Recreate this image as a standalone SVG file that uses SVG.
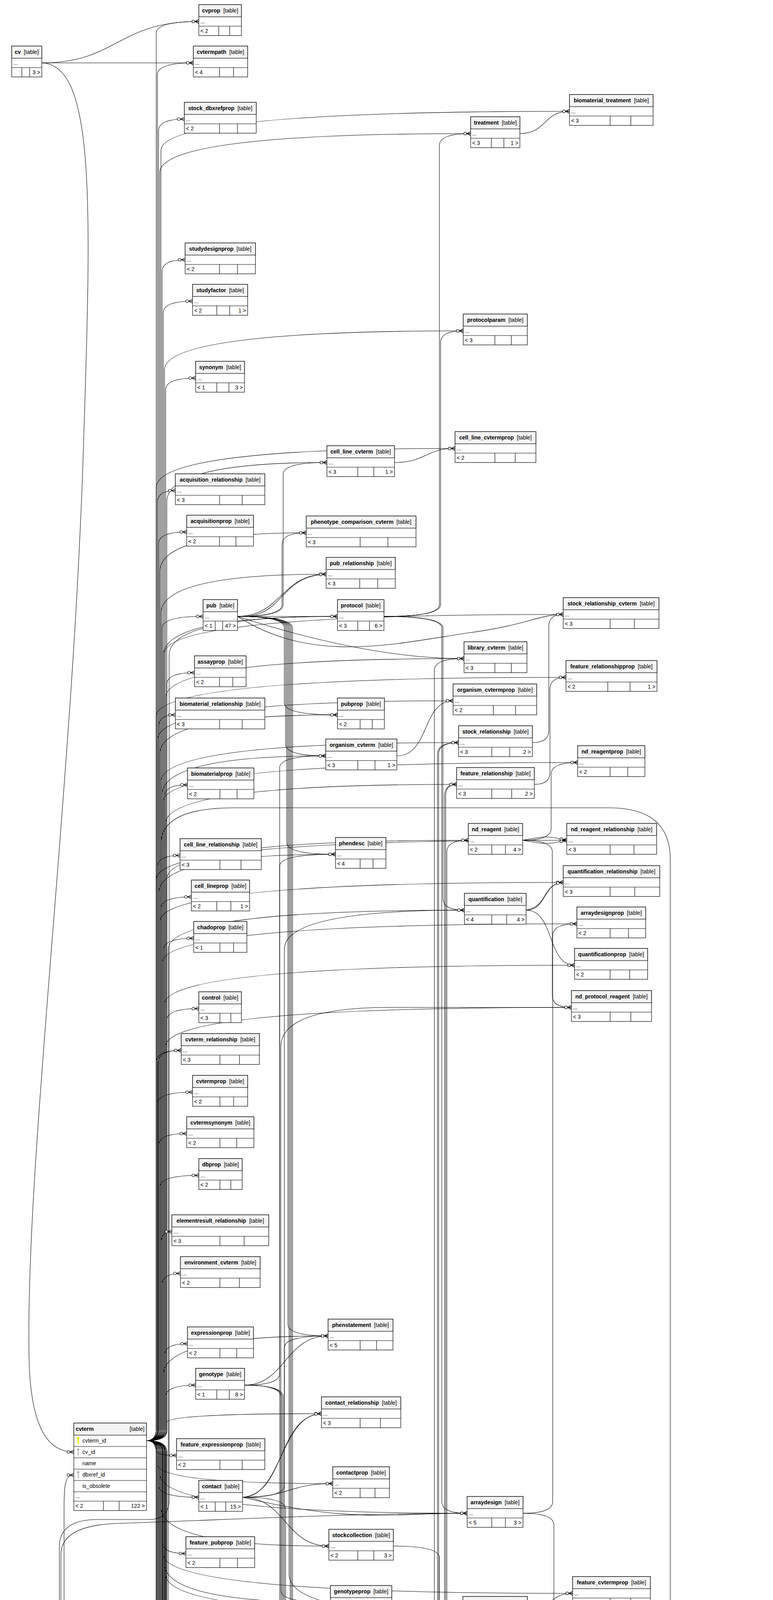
<svg xmlns="http://www.w3.org/2000/svg" xmlns:xlink="http://www.w3.org/1999/xlink" width="1979" height="7908" viewBox="0 0 1979 7908">
<style>
.b{fill:#fff;stroke:#000;stroke-width:1.2}
.h{fill:#f4f4f4;stroke:#000;stroke-width:1.2}
.l{fill:none;stroke:#000;stroke-width:1.2}
#connectors path{fill:none;stroke:#000;stroke-width:1.1;marker-end:url(#m)}
text{font-family:"Liberation Sans",Arial,Helvetica,sans-serif;font-size:14px;fill:#000}
.t{text-anchor:middle}
.n{font-weight:bold}
.r{text-anchor:end}
.pk{color:#e0e000}
.fk{color:#b8b8b8}
</style>
<defs>
<marker id="m" viewBox="0 0 20 12" refX="20" refY="6" markerWidth="20" markerHeight="12" markerUnits="userSpaceOnUse" orient="auto">
<path d="M10,6L20,1M10,6L20,6M10,6L20,11" fill="none" stroke="#000" stroke-width="1.2"/>
<circle cx="6" cy="6" r="3.5" fill="#fff" stroke="#000" stroke-width="1.2"/>
</marker>
<symbol id="k" viewBox="0 0 8 20"><circle cx="4" cy="4" r="3.2" fill="currentColor"/><path d="M4,6V19M4,14H7M4,17H6" stroke="currentColor" stroke-width="2" fill="none"/></symbol>
</defs>
<rect width="1979" height="7908" fill="#fff"/>
<g id="connectors">
<path d="M375,3688Q400,3688 400,3658L400,85Q400,55 509,55"/>
<path d="M375,3688Q403,3688 403,3658L403,191Q403,161 495,161"/>
<path d="M375,3688Q406,3688 406,3658L406,335Q406,305 472,305"/>
<path d="M375,3688Q409,3688 409,3658L409,442Q409,342 1205,342"/>
<path d="M375,3688Q412,3688 412,3658L412,385Q412,285 1458,285"/>
<path d="M375,3688Q415,3688 415,3658L415,695Q415,665 474,665"/>
<path d="M375,3688Q418,3688 418,3658L418,801Q418,771 493,771"/>
<path d="M375,3688Q421,3688 421,3658L421,947Q421,847 1186,847"/>
<path d="M375,3688Q424,3688 424,3658L424,998Q424,968 501,968"/>
<path d="M375,3688Q427,3688 427,3658L427,1284Q427,1184 837,1184"/>
<path d="M375,3688Q400,3688 400,3658L400,1248Q400,1148 1165,1148"/>
<path d="M375,3688Q403,3688 403,3658L403,1286Q403,1256 449,1256"/>
<path d="M375,3688Q406,3688 406,3658L406,1392Q406,1362 478,1362"/>
<path d="M375,3688Q409,3688 409,3658L409,1464Q409,1364 784,1364"/>
<path d="M375,3688Q412,3688 412,3658L412,1570Q412,1470 835,1470"/>
<path d="M375,3688Q415,3688 415,3658L415,1608Q415,1578 520,1578"/>
<path d="M375,3688Q418,3688 418,3658L418,1678Q418,1578 864,1578"/>
<path d="M375,3688Q421,3688 421,3658L421,1673Q421,1573 1442,1573"/>
<path d="M375,3688Q424,3688 424,3658L424,1786Q424,1686 1188,1686"/>
<path d="M375,3688Q427,3688 427,3658L427,1752Q427,1722 498,1722"/>
<path d="M375,3688Q400,3688 400,3658L400,1834Q400,1734 1449,1734"/>
<path d="M375,3688Q403,3688 403,3658L403,1894Q403,1794 1160,1794"/>
<path d="M375,3688Q406,3688 406,3658L406,1860Q406,1830 449,1830"/>
<path d="M375,3688Q409,3688 409,3658L409,1930Q409,1830 864,1830"/>
<path d="M375,3688Q412,3688 412,3658L412,2001Q412,1901 1174,1901"/>
<path d="M375,3688Q415,3688 415,3658L415,2035Q415,1935 834,1935"/>
<path d="M375,3688Q418,3688 418,3658L418,2052Q418,1952 1479,1952"/>
<path d="M375,3688Q421,3688 421,3658L421,2039Q421,2009 480,2009"/>
<path d="M375,3688Q424,3688 424,3658L424,2108Q424,2008 1169,2008"/>
<path d="M375,3688Q427,3688 427,3658L427,2251Q427,2151 1199,2151"/>
<path d="M375,3688Q400,3688 400,3658L400,2251Q400,2151 1451,2151"/>
<path d="M375,3688Q403,3688 403,3658L403,2220Q403,2190 461,2190"/>
<path d="M375,3688Q406,3688 406,3658L406,2287Q406,2187 859,2187"/>
<path d="M375,3688Q409,3688 409,3658L409,2359Q409,2259 1442,2259"/>
<path d="M375,3688Q412,3688 412,3658L412,2326Q412,2296 490,2296"/>
<path d="M375,3688Q415,3688 415,3658L415,2465Q415,2365 1477,2365"/>
<path d="M375,3688Q418,3688 418,3658L418,2432Q418,2402 496,2402"/>
<path d="M375,3688Q421,3688 421,3658L421,2571Q421,2471 1471,2471"/>
<path d="M375,3688Q424,3688 424,3658L424,2679Q424,2579 1463,2579"/>
<path d="M375,3688Q427,3688 427,3658L427,2612Q427,2582 509,2582"/>
<path d="M375,3688Q400,3688 400,3658L400,2719Q400,2689 464,2689"/>
<path d="M375,3688Q405,3688 405,3658L405,2719Q405,2689 464,2689"/>
<path d="M375,3688Q403,3688 403,3658L403,2826Q403,2796 493,2796"/>
<path d="M375,3688Q406,3688 406,3658L406,2932Q406,2902 478,2902"/>
<path d="M375,3688Q409,3688 409,3658L409,3039Q409,3009 509,3009"/>
<path d="M375,3688Q412,3688 412,3658L412,3183Q412,3153 440,3153"/>
<path d="M375,3688Q415,3688 415,3658L415,3290Q415,3260 462,3260"/>
<path d="M375,3688Q418,3688 418,3658L418,3520Q418,3420 840,3420"/>
<path d="M375,3688Q421,3688 421,3658L421,3470Q421,3440 480,3440"/>
<path d="M375,3688Q424,3688 424,3658L424,3576Q424,3546 501,3546"/>
<path d="M375,3688Q427,3688 427,3665L427,3642Q427,3619 823,3619"/>
<path d="M375,3688Q400,3688 400,3701L400,3713Q400,3726 452,3726"/>
<path d="M375,3688Q403,3688 403,3718L403,3748Q403,3798 852,3798"/>
<path d="M375,3688Q406,3688 406,3718L406,3803Q406,3833 509,3833"/>
<path d="M375,3688Q409,3688 409,3718L409,3774Q409,3874 1196,3874"/>
<path d="M375,3688Q412,3688 412,3718L412,3858Q412,3958 842,3958"/>
<path d="M375,3688Q415,3688 415,3718L415,3947Q415,3977 476,3977"/>
<path d="M375,3688Q418,3688 418,3718L418,3979Q418,4079 1466,4079"/>
<path d="M375,3688Q421,3688 421,3718L421,4002Q421,4102 846,4102"/>
<path d="M375,3688Q424,3688 424,3718L424,4030Q424,4130 1185,4130"/>
<path d="M375,3688Q427,3688 427,3718L427,4143Q427,4173 480,4173"/>
<path d="M375,3688Q400,3688 400,3718L400,4164Q400,4264 1169,4264"/>
<path d="M375,3688Q403,3688 403,3718L403,4254Q403,4354 810,4354"/>
<path d="M375,3688Q406,3688 406,3718L406,4395Q406,4425 452,4425"/>
<path d="M375,3688Q409,3688 409,3718L409,4325Q409,4425 1191,4425"/>
<path d="M375,3688Q412,3688 412,3718L412,4358Q412,4458 1473,4458"/>
<path d="M375,3688Q415,3688 415,3718L415,4502Q415,4532 467,4532"/>
<path d="M375,3688Q418,3688 418,3718L418,4470Q418,4570 1203,4570"/>
<path d="M375,3688Q421,3688 421,3718L421,4541Q421,4641 858,4641"/>
<path d="M375,3688Q424,3688 424,3718L424,4646Q424,4676 468,4676"/>
<path d="M375,3688Q427,3688 427,3718L427,4576Q427,4676 1177,4676"/>
<path d="M375,3688Q400,3688 400,3718L400,4719Q400,4819 1174,4819"/>
<path d="M375,3688Q403,3688 403,3718L403,4754Q403,4854 844,4854"/>
<path d="M375,3688Q406,3688 406,3718L406,4785Q406,4885 1482,4885"/>
<path d="M375,3688Q409,3688 409,3718L409,4861Q409,4961 817,4961"/>
<path d="M375,3688Q412,3688 412,3718L412,5041Q412,5071 501,5071"/>
<path d="M375,3688Q415,3688 415,3718L415,4966Q415,5066 873,5066"/>
<path d="M375,3688Q418,3688 418,3718L418,5036Q418,5136 1444,5136"/>
<path d="M375,3688Q421,3688 421,3718L421,5072Q421,5172 1176,5172"/>
<path d="M375,3688Q424,3688 424,3718L424,5179Q424,5279 1162,5279"/>
<path d="M375,3688Q427,3688 427,3718L427,5294Q427,5324 498,5324"/>
<path d="M375,3688Q422,3688 422,3718L422,5294Q422,5324 498,5324"/>
<path d="M375,3688Q417,3688 417,3718L417,5294Q417,5324 498,5324"/>
<path d="M375,3688Q400,3688 400,3718L400,5255Q400,5355 829,5355"/>
<path d="M375,3688Q403,3688 403,3718L403,5510Q403,5540 495,5540"/>
<path d="M375,3688Q406,3688 406,3718L406,5467Q406,5567 839,5567"/>
<path d="M375,3688Q409,3688 409,3718L409,5537Q409,5637 1508,5637"/>
<path d="M375,3688Q412,3688 412,3658L412,2160Q412,2068 600,2068L1560,2068Q1716,2068 1716,2200L1716,5580Q1716,5637 1754,5637"/>
<path d="M375,3688Q415,3688 415,3718L415,5575Q415,5675 870,5675"/>
<path d="M375,3688Q418,3688 418,3718L418,5614Q418,5714 1191,5714"/>
<path d="M375,3688Q421,3688 421,3718L421,5691Q421,5721 464,5721"/>
<path d="M375,3688Q424,3688 424,3718L424,5682Q424,5782 837,5782"/>
<path d="M375,3688Q427,3688 427,3718L427,5796Q427,5826 493,5826"/>
<path d="M375,3688Q400,3688 400,3718L400,5753Q400,5853 1196,5853"/>
<path d="M375,3688Q403,3688 403,3718L403,5897Q403,5997 872,5997"/>
<path d="M375,3688Q406,3688 406,3718L406,5897Q406,5997 1169,5997"/>
<path d="M375,3688Q409,3688 409,3718L409,6048Q409,6078 492,6078"/>
<path d="M375,3688Q412,3688 412,3718L412,6058Q412,6158 1199,6158"/>
<path d="M375,3688Q415,3688 415,3718L415,6216Q415,6246 476,6246"/>
<path d="M375,3688Q418,3688 418,3718L418,6110Q418,6210 835,6210"/>
<path d="M375,3688Q421,3688 421,3718L421,6505Q421,6605 825,6605"/>
<path d="M375,3688Q424,3688 424,3718L424,6615Q424,6645 464,6645"/>
<path d="M375,3688Q427,3688 427,3718L427,6722Q427,6752 483,6752"/>
<path d="M375,3688Q400,3688 400,3718L400,6721Q400,6821 844,6821"/>
<path d="M375,3688Q403,3688 403,3718L403,6829Q403,6859 495,6859"/>
<path d="M375,3688Q406,3688 406,3718L406,6790Q406,6890 1201,6890"/>
<path d="M375,3688Q409,3688 409,3718L409,6835Q409,6935 1453,6935"/>
<path d="M375,3688Q412,3688 412,3718L412,6935Q412,6965 490,6965"/>
<path d="M375,3688Q415,3688 415,3718L415,6961Q415,7061 1465,7061"/>
<path d="M375,3688Q418,3688 418,3718L418,7042Q418,7072 477,7072"/>
<path d="M375,3688Q421,3688 421,3718L421,7066Q421,7166 755,7166"/>
<path d="M375,3688Q424,3688 424,3718L424,7222Q424,7252 459,7252"/>
<path d="M375,3688Q427,3688 427,3718L427,7545Q427,7575 501,7575"/>
<path d="M107,161C300,161 300,55 509,55"/>
<path d="M107,161C300,161 300,161 495,161"/>
<path d="M107,161C240,165 235,500 215,1100C190,2000 60,3000 75,3500C82,3650 120,3717 189,3717"/>
<path d="M122,7140C160,7140 164,7100 164,7000L164,3860C164,3800 167,3776 189,3776"/>
<path d="M122,7140C150,7140 152,7100 152,7000L152,3960Q152,3890 250,3890L380,3890Q433,3890 433,3840L433,1678Q433,1578 864,1578"/>
<path d="M122,7140C150,7140 156,7100 156,7000L156,3980Q156,3905 300,3900C600,3890 900,3874 1196,3874"/>
<path d="M122,7140C150,7140 158,7100 158,7000L158,5250Q158,5120 300,5110C500,5095 700,5066 873,5066"/>
<path d="M122,7140C150,7140 160,7100 160,7000L160,5850Q160,5720 300,5710C500,5690 700,5675 870,5675"/>
<path d="M122,7140C170,7150 150,7700 180,7800C220,7880 300,7840 400,7815L900,7812C1300,7800 1370,7000 1385,6400L1395,5700Q1400,5637 1508,5637"/>
<path d="M122,7140C165,7160 150,7600 260,7730C380,7840 640,7810 700,7660C730,7560 720,7431 817,7431"/>
<path d="M122,7140C300,7140 330,6752 483,6752"/>
<path d="M122,7140C300,7140 330,6859 495,6859"/>
<path d="M122,7140C165,7150 160,7400 200,7520C240,7610 330,7575 501,7575"/>
<path d="M122,7140C165,7150 160,7500 220,7640C280,7740 360,7720 478,7720"/>
<path d="M361,7356Q431,7356 431,7300L431,2430Q431,2330 1189,2330"/>
<path d="M361,7356Q432,7356 432,7300L432,5562Q432,5462 848,5462"/>
<path d="M361,7356C430,7356 420,6965 490,6965"/>
<path d="M361,7356C430,7356 420,7072 477,7072"/>
<path d="M361,7356C520,7380 560,7280 740,7240C1000,7190 1130,7110 1186,7110"/>
<path d="M361,7356C560,7356 560,7137 755,7137"/>
<path d="M361,7356C410,7356 400,7252 459,7252"/>
<path d="M361,7356C425,7350 395,7256 459,7252"/>
<path d="M361,7356C420,7356 410,7468 477,7468"/>
<path d="M361,7356C430,7356 420,7575 501,7575"/>
<path d="M361,7356C440,7356 400,7720 478,7720"/>
<path d="M366,6431C420,6431 410,6217 476,6217"/>
<path d="M366,6431C420,6431 410,6645 464,6645"/>
<path d="M608,1578C720,1578 720,1470 835,1470"/>
<path d="M608,1578C730,1585 710,1475 835,1470"/>
<path d="M608,1578C700,1578 780,1578 864,1578"/>
<path d="M608,1578Q725,1578 725,1548L725,1214Q725,1184 837,1184"/>
<path d="M608,1578Q722,1578 722,1548L722,1394Q722,1364 784,1364"/>
<path d="M608,1578C800,1700 1000,1650 1200,1620C1350,1600 1380,1573 1442,1573"/>
<path d="M608,1578C800,1640 1000,1686 1188,1686"/>
<path d="M608,1578Q728,1578 728,1608L728,1800Q728,1830 864,1830"/>
<path d="M608,1578Q731,1578 731,1608L731,1905Q731,1935 834,1935"/>
<path d="M608,1578Q734,1578 734,1608L734,2157Q734,2187 859,2187"/>
<path d="M608,1578Q737,1578 737,1608L737,3390Q737,3420 840,3420"/>
<path d="M608,1578Q740,1578 740,1608L740,4030Q740,4130 1185,4130"/>
<path d="M608,1578Q743,1578 743,1608L743,4216Q743,4246 824,4246"/>
<path d="M608,1578Q746,1578 746,1608L746,4325Q746,4425 1191,4425"/>
<path d="M608,1578Q749,1578 749,1608L749,5432Q749,5462 848,5462"/>
<path d="M983,1578Q1125,1578 1125,1548L1125,372Q1125,342 1205,342"/>
<path d="M983,1578Q1128,1578 1128,1548L1128,877Q1128,847 1186,847"/>
<path d="M983,1578Q1131,1578 1131,1608L1131,3844Q1131,3874 1196,3874"/>
<path d="M983,1578Q1134,1578 1134,1608L1134,2300Q1134,2330 1189,2330"/>
<path d="M1010,1184C1090,1184 1090,1148 1165,1148"/>
<path d="M1016,1935C1100,1935 1080,1794 1160,1794"/>
<path d="M626,3546Q716,3546 716,3516L716,2217Q716,2187 859,2187"/>
<path d="M626,3546C730,3546 730,3420 840,3420"/>
<path d="M626,3546Q719,3546 719,3576L719,4072Q719,4102 846,4102"/>
<path d="M626,3546Q722,3546 722,3576L722,4576Q722,4676 1177,4676"/>
<path d="M626,3546Q725,3546 725,3576L725,4718Q725,4748 805,4748"/>
<path d="M621,3833C720,3833 720,3619 823,3619"/>
<path d="M621,3833C730,3825 710,3625 823,3619"/>
<path d="M621,3833C740,3833 740,3798 852,3798"/>
<path d="M621,3833C900,3900 1000,3874 1196,3874"/>
<path d="M621,3833C730,3833 730,3958 842,3958"/>
<path d="M621,3833Q728,3833 728,3803L728,2430Q728,2330 1189,2330"/>
<path d="M621,3833Q731,3833 731,3863L731,5144Q731,5174 811,5174"/>
<path d="M1339,3874Q1415,3874 1415,3844L1415,2395Q1415,2365 1477,2365"/>
<path d="M1339,3874Q1418,3874 1418,3904L1418,5607Q1418,5637 1508,5637"/>
<path d="M1007,3958Q1125,3958 1125,3988L1125,4234Q1125,4264 1169,4264"/>
<path d="M1350,4130C1410,4130 1400,4079 1466,4079"/>
<path d="M1344,4425C1410,4425 1400,4458 1473,4458"/>
<path d="M989,4641Q1128,4641 1128,4671L1128,4789Q1128,4819 1174,4819"/>
<path d="M661,4676Q734,4676 734,4646L734,4384Q734,4354 810,4354"/>
<path d="M627,5071Q716,5071 716,5041L716,1965Q716,1935 834,1935"/>
<path d="M627,5071Q719,5071 719,5041L719,4884Q719,4854 844,4854"/>
<path d="M627,5071C720,5071 720,4961 817,4961"/>
<path d="M627,5071C730,5065 710,4966 817,4961"/>
<path d="M627,5071C750,5071 750,5066 873,5066"/>
<path d="M627,5071Q722,5071 722,5101L722,5645Q722,5675 870,5675"/>
<path d="M627,5071Q725,5071 725,5101L725,5967Q725,5997 872,5997"/>
<path d="M973,5066Q1120,5066 1120,5036L1120,1931Q1120,1901 1174,1901"/>
<path d="M973,5066Q1123,5066 1123,5036L1123,1931Q1123,1901 1174,1901"/>
<path d="M973,5066Q1126,5066 1126,5036L1126,4455Q1126,4425 1191,4425"/>
<path d="M973,5066Q1129,5066 1129,5036L1129,4600Q1129,4570 1203,4570"/>
<path d="M973,5066C1080,5066 1080,5172 1176,5172"/>
<path d="M973,5066Q1132,5066 1132,5096L1132,5249Q1132,5279 1162,5279"/>
<path d="M973,5066Q1135,5066 1135,5096L1135,5684Q1135,5714 1191,5714"/>
<path d="M1372,5279C1410,5279 1400,5136 1444,5136"/>
<path d="M631,5324Q728,5324 728,5294L728,3450Q728,3420 840,3420"/>
<path d="M631,5324C730,5324 730,5355 829,5355"/>
<path d="M631,5324Q731,5324 731,5354L731,5537Q731,5567 839,5567"/>
<path d="M631,5324Q734,5324 734,5354L734,6074Q734,6104 801,6104"/>
<path d="M634,5540Q737,5540 737,5510L737,5272Q737,5172 1176,5172"/>
<path d="M634,5540Q740,5540 740,5570L740,5752Q740,5782 837,5782"/>
<path d="M1624,5637C1690,5622 1700,5625 1754,5637"/>
<path d="M1624,5637C1690,5652 1700,5650 1754,5637"/>
<path d="M978,5675Q1138,5675 1138,5645L1138,2038Q1138,2008 1169,2008"/>
<path d="M978,5675Q1141,5675 1141,5645L1141,2038Q1141,2008 1169,2008"/>
<path d="M978,5675Q1144,5675 1144,5645L1144,2181Q1144,2151 1199,2151"/>
<path d="M978,5675Q1147,5675 1147,5645L1147,4160Q1147,4130 1185,4130"/>
<path d="M978,5675Q1150,5675 1150,5645L1150,4706Q1150,4676 1177,4676"/>
<path d="M978,5675Q1153,5675 1153,5645L1153,4706Q1153,4676 1177,4676"/>
<path d="M978,5675Q1156,5675 1156,5645L1156,4849Q1156,4819 1174,4819"/>
<path d="M978,5675C1200,5660 1300,5637 1508,5637"/>
<path d="M978,5675C1080,5675 1090,5714 1191,5714"/>
<path d="M978,5675Q1125,5675 1125,5705L1125,5823Q1125,5853 1196,5853"/>
<path d="M978,5675Q1122,5675 1122,5705L1122,6860Q1122,6890 1201,6890"/>
<path d="M978,5675Q1119,5675 1119,5705L1119,7080Q1119,7110 1186,7110"/>
<path d="M977,5997Q1112,5997 1112,5967L1112,1716Q1112,1686 1188,1686"/>
<path d="M977,5997C1070,5990 1080,5990 1169,5997"/>
<path d="M977,5997C1070,6005 1080,6005 1169,5997"/>
<path d="M977,5997Q1115,5997 1115,6027L1115,6128Q1115,6158 1199,6158"/>
<path d="M636,6078Q719,6078 719,6048L719,2680Q719,2579 1000,2579L1463,2579"/>
<path d="M636,6078C740,6078 740,6210 835,6210"/>
<path d="M636,6078Q725,6078 725,6108L725,6325Q725,6355 808,6355"/>
<path d="M652,6188Q752,6188 752,6158L752,4276Q752,4246 824,4246"/>
<path d="M652,6188Q755,6188 755,6158L755,4778Q755,4748 805,4748"/>
<path d="M652,6188Q758,6188 758,6158L758,5204Q758,5174 811,5174"/>
<path d="M652,6188Q761,6188 761,6158L761,5379Q761,5279 1162,5279"/>
<path d="M652,6188C730,6188 730,6104 801,6104"/>
<path d="M652,6188C740,6188 730,6355 808,6355"/>
<path d="M652,6188Q750,6188 750,6218L750,6469Q750,6499 814,6499"/>
<path d="M652,6188Q753,6188 753,6218L753,6575Q753,6605 825,6605"/>
<path d="M652,6188Q700,6188 700,6218L700,7077Q700,7107 755,7107"/>
<path d="M652,6188Q745,6188 745,6218L745,7401Q745,7431 817,7431"/>
<path d="M627,7575Q730,7575 730,7545L730,6851Q730,6821 844,6821"/>
<path d="M627,7575Q733,7575 733,7545L733,6990Q733,6890 1201,6890"/>
<path d="M627,7575C900,7500 1100,7400 1130,7200C1150,7000 1380,6935 1453,6935"/>
<path d="M1335,6890Q1420,6890 1420,6860L1420,4915Q1420,4885 1482,4885"/>
<path d="M1335,6890C1400,6890 1390,6935 1453,6935"/>
<path d="M1335,6890C1410,6900 1380,6940 1453,6935"/>
<path d="M1350,7110C1410,7110 1400,7061 1465,7061"/>
<path d="M1331,342C1400,342 1390,285 1458,285"/>
<path d="M1363,1901Q1405,1901 1405,1871L1405,1603Q1405,1573 1442,1573"/>
<path d="M1368,2008Q1408,2008 1408,1978L1408,1764Q1408,1734 1449,1734"/>
<path d="M1338,2151C1400,2140 1400,2140 1451,2151"/>
<path d="M1338,2151C1400,2162 1400,2162 1451,2151"/>
<path d="M1338,2151Q1411,2151 1411,2121L1411,1982Q1411,1952 1479,1952"/>
<path d="M1338,2151Q1414,2151 1414,2181L1414,2549Q1414,2579 1463,2579"/>
<path d="M1347,2330C1400,2330 1390,2259 1442,2259"/>
<path d="M1347,2330C1405,2320 1385,2265 1442,2259"/>
<path d="M1347,2330C1420,2330 1400,2471 1471,2471"/>
</g>
<g id="cv" transform="translate(30,118)"><rect class="b" width="77" height="79"/><rect class="h" width="77" height="31"/><path class="l" d="M0,55H77M26,55V79M46,55V79"/><text class="t" x="38.5" y="20"><tspan class="n">cv</tspan>&#160; [table]</text><text x="4" y="48">...</text><text class="r" x="73" y="72">3 &gt;</text></g>
<g id="cvprop" transform="translate(509,12)"><rect class="b" width="109" height="79"/><rect class="h" width="109" height="31"/><path class="l" d="M0,55H109M51,55V79M79,55V79"/><text class="t" x="54.5" y="20"><tspan class="n">cvprop</tspan>&#160; [table]</text><text x="4" y="48">...</text><text x="4" y="72">&lt; 2</text></g>
<g id="cvtermpath" transform="translate(495,118)"><rect class="b" width="139" height="79"/><rect class="h" width="139" height="31"/><path class="l" d="M0,55H139M67,55V79M103,55V79"/><text class="t" x="69.5" y="20"><tspan class="n">cvtermpath</tspan>&#160; [table]</text><text x="4" y="48">...</text><text x="4" y="72">&lt; 4</text></g>
<g id="stock_dbxrefprop" transform="translate(472,262)"><rect class="b" width="184" height="79"/><rect class="h" width="184" height="31"/><path class="l" d="M0,55H184M90,55V79M136,55V79"/><text class="t" x="92" y="20"><tspan class="n">stock_dbxrefprop</tspan>&#160; [table]</text><text x="4" y="48">...</text><text x="4" y="72">&lt; 2</text></g>
<g id="treatment" transform="translate(1205,299)"><rect class="b" width="126" height="79"/><rect class="h" width="126" height="31"/><path class="l" d="M0,55H126M53,55V79M85,55V79"/><text class="t" x="63" y="20"><tspan class="n">treatment</tspan>&#160; [table]</text><text x="4" y="48">...</text><text x="4" y="72">&lt; 3</text><text class="r" x="122" y="72">1 &gt;</text></g>
<g id="biomaterial_treatment" transform="translate(1458,242)"><rect class="b" width="214" height="79"/><rect class="h" width="214" height="31"/><path class="l" d="M0,55H214M104,55V79M157,55V79"/><text class="t" x="107" y="20"><tspan class="n">biomaterial_treatment</tspan>&#160; [table]</text><text x="4" y="48">...</text><text x="4" y="72">&lt; 3</text></g>
<g id="studydesignprop" transform="translate(474,622)"><rect class="b" width="180" height="79"/><rect class="h" width="180" height="31"/><path class="l" d="M0,55H180M88,55V79M134,55V79"/><text class="t" x="90" y="20"><tspan class="n">studydesignprop</tspan>&#160; [table]</text><text x="4" y="48">...</text><text x="4" y="72">&lt; 2</text></g>
<g id="studyfactor" transform="translate(493,728)"><rect class="b" width="141" height="79"/><rect class="h" width="141" height="31"/><path class="l" d="M0,55H141M62,55V79M95,55V79"/><text class="t" x="70.5" y="20"><tspan class="n">studyfactor</tspan>&#160; [table]</text><text x="4" y="48">...</text><text x="4" y="72">&lt; 2</text><text class="r" x="137" y="72">1 &gt;</text></g>
<g id="protocolparam" transform="translate(1186,804)"><rect class="b" width="164" height="79"/><rect class="h" width="164" height="31"/><path class="l" d="M0,55H164M81,55V79M123,55V79"/><text class="t" x="82" y="20"><tspan class="n">protocolparam</tspan>&#160; [table]</text><text x="4" y="48">...</text><text x="4" y="72">&lt; 3</text></g>
<g id="synonym" transform="translate(501,925)"><rect class="b" width="125" height="79"/><rect class="h" width="125" height="31"/><path class="l" d="M0,55H125M54,55V79M85,55V79"/><text class="t" x="62.5" y="20"><tspan class="n">synonym</tspan>&#160; [table]</text><text x="4" y="48">...</text><text x="4" y="72">&lt; 1</text><text class="r" x="121" y="72">3 &gt;</text></g>
<g id="cell_line_cvterm" transform="translate(837,1141)"><rect class="b" width="173" height="79"/><rect class="h" width="173" height="31"/><path class="l" d="M0,55H173M79,55V79M120,55V79"/><text class="t" x="86.5" y="20"><tspan class="n">cell_line_cvterm</tspan>&#160; [table]</text><text x="4" y="48">...</text><text x="4" y="72">&lt; 3</text><text class="r" x="169" y="72">1 &gt;</text></g>
<g id="cell_line_cvtermprop" transform="translate(1165,1105)"><rect class="b" width="207" height="79"/><rect class="h" width="207" height="31"/><path class="l" d="M0,55H207M102,55V79M154,55V79"/><text class="t" x="103.5" y="20"><tspan class="n">cell_line_cvtermprop</tspan>&#160; [table]</text><text x="4" y="48">...</text><text x="4" y="72">&lt; 2</text></g>
<g id="acquisition_relationship" transform="translate(449,1213)"><rect class="b" width="229" height="79"/><rect class="h" width="229" height="31"/><path class="l" d="M0,55H229M113,55V79M171,55V79"/><text class="t" x="114.5" y="20"><tspan class="n">acquisition_relationship</tspan>&#160; [table]</text><text x="4" y="48">...</text><text x="4" y="72">&lt; 3</text></g>
<g id="acquisitionprop" transform="translate(478,1319)"><rect class="b" width="171" height="79"/><rect class="h" width="171" height="31"/><path class="l" d="M0,55H171M84,55V79M126,55V79"/><text class="t" x="85.5" y="20"><tspan class="n">acquisitionprop</tspan>&#160; [table]</text><text x="4" y="48">...</text><text x="4" y="72">&lt; 2</text></g>
<g id="phenotype_comparison_cvterm" transform="translate(784,1321)"><rect class="b" width="281" height="79"/><rect class="h" width="281" height="31"/><path class="l" d="M0,55H281M138,55V79M209,55V79"/><text class="t" x="140.5" y="20"><tspan class="n">phenotype_comparison_cvterm</tspan>&#160; [table]</text><text x="4" y="48">...</text><text x="4" y="72">&lt; 3</text></g>
<g id="pub_relationship" transform="translate(835,1427)"><rect class="b" width="177" height="79"/><rect class="h" width="177" height="31"/><path class="l" d="M0,55H177M86,55V79M132,55V79"/><text class="t" x="88.5" y="20"><tspan class="n">pub_relationship</tspan>&#160; [table]</text><text x="4" y="48">...</text><text x="4" y="72">&lt; 3</text></g>
<g id="pub" transform="translate(520,1535)"><rect class="b" width="88" height="79"/><rect class="h" width="88" height="31"/><path class="l" d="M0,55H88M31,55V79M50,55V79"/><text class="t" x="44" y="20"><tspan class="n">pub</tspan>&#160; [table]</text><text x="4" y="48">...</text><text x="4" y="72">&lt; 1</text><text class="r" x="84" y="72">47 &gt;</text></g>
<g id="protocol" transform="translate(864,1535)"><rect class="b" width="119" height="79"/><rect class="h" width="119" height="31"/><path class="l" d="M0,55H119M52,55V79M82,55V79"/><text class="t" x="59.5" y="20"><tspan class="n">protocol</tspan>&#160; [table]</text><text x="4" y="48">...</text><text x="4" y="72">&lt; 3</text><text class="r" x="115" y="72">6 &gt;</text></g>
<g id="stock_relationship_cvterm" transform="translate(1442,1530)"><rect class="b" width="245" height="79"/><rect class="h" width="245" height="31"/><path class="l" d="M0,55H245M120,55V79M182,55V79"/><text class="t" x="122.5" y="20"><tspan class="n">stock_relationship_cvterm</tspan>&#160; [table]</text><text x="4" y="48">...</text><text x="4" y="72">&lt; 3</text></g>
<g id="library_cvterm" transform="translate(1188,1643)"><rect class="b" width="161" height="79"/><rect class="h" width="161" height="31"/><path class="l" d="M0,55H161M79,55V79M121,55V79"/><text class="t" x="80.5" y="20"><tspan class="n">library_cvterm</tspan>&#160; [table]</text><text x="4" y="48">...</text><text x="4" y="72">&lt; 3</text></g>
<g id="assayprop" transform="translate(498,1679)"><rect class="b" width="132" height="79"/><rect class="h" width="132" height="31"/><path class="l" d="M0,55H132M64,55V79M98,55V79"/><text class="t" x="66" y="20"><tspan class="n">assayprop</tspan>&#160; [table]</text><text x="4" y="48">...</text><text x="4" y="72">&lt; 2</text></g>
<g id="feature_relationshipprop" transform="translate(1449,1691)"><rect class="b" width="233" height="79"/><rect class="h" width="233" height="31"/><path class="l" d="M0,55H233M107,55V79M164,55V79"/><text class="t" x="116.5" y="20"><tspan class="n">feature_relationshipprop</tspan>&#160; [table]</text><text x="4" y="48">...</text><text x="4" y="72">&lt; 2</text><text class="r" x="229" y="72">1 &gt;</text></g>
<g id="organism_cvtermprop" transform="translate(1160,1751)"><rect class="b" width="214" height="79"/><rect class="h" width="214" height="31"/><path class="l" d="M0,55H214M103,55V79M160,55V79"/><text class="t" x="107" y="20"><tspan class="n">organism_cvtermprop</tspan>&#160; [table]</text><text x="4" y="48">...</text><text x="4" y="72">&lt; 2</text></g>
<g id="biomaterial_relationship" transform="translate(449,1787)"><rect class="b" width="229" height="79"/><rect class="h" width="229" height="31"/><path class="l" d="M0,55H229M113,55V79M171,55V79"/><text class="t" x="114.5" y="20"><tspan class="n">biomaterial_relationship</tspan>&#160; [table]</text><text x="4" y="48">...</text><text x="4" y="72">&lt; 3</text></g>
<g id="pubprop" transform="translate(864,1787)"><rect class="b" width="120" height="79"/><rect class="h" width="120" height="31"/><path class="l" d="M0,55H120M58,55V79M89,55V79"/><text class="t" x="60" y="20"><tspan class="n">pubprop</tspan>&#160; [table]</text><text x="4" y="48">...</text><text x="4" y="72">&lt; 2</text></g>
<g id="stock_relationship" transform="translate(1174,1858)"><rect class="b" width="189" height="79"/><rect class="h" width="189" height="31"/><path class="l" d="M0,55H189M85,55V79M131,55V79"/><text class="t" x="94.5" y="20"><tspan class="n">stock_relationship</tspan>&#160; [table]</text><text x="4" y="48">...</text><text x="4" y="72">&lt; 3</text><text class="r" x="185" y="72">2 &gt;</text></g>
<g id="organism_cvterm" transform="translate(834,1892)"><rect class="b" width="182" height="79"/><rect class="h" width="182" height="31"/><path class="l" d="M0,55H182M82,55V79M126,55V79"/><text class="t" x="91" y="20"><tspan class="n">organism_cvterm</tspan>&#160; [table]</text><text x="4" y="48">...</text><text x="4" y="72">&lt; 3</text><text class="r" x="178" y="72">1 &gt;</text></g>
<g id="nd_reagentprop" transform="translate(1479,1909)"><rect class="b" width="172" height="79"/><rect class="h" width="172" height="31"/><path class="l" d="M0,55H172M83,55V79M128,55V79"/><text class="t" x="86" y="20"><tspan class="n">nd_reagentprop</tspan>&#160; [table]</text><text x="4" y="48">...</text><text x="4" y="72">&lt; 2</text></g>
<g id="biomaterialprop" transform="translate(480,1966)"><rect class="b" width="170" height="79"/><rect class="h" width="170" height="31"/><path class="l" d="M0,55H170M83,55V79M127,55V79"/><text class="t" x="85" y="20"><tspan class="n">biomaterialprop</tspan>&#160; [table]</text><text x="4" y="48">...</text><text x="4" y="72">&lt; 2</text></g>
<g id="feature_relationship" transform="translate(1169,1965)"><rect class="b" width="199" height="79"/><rect class="h" width="199" height="31"/><path class="l" d="M0,55H199M90,55V79M141,55V79"/><text class="t" x="99.5" y="20"><tspan class="n">feature_relationship</tspan>&#160; [table]</text><text x="4" y="48">...</text><text x="4" y="72">&lt; 3</text><text class="r" x="195" y="72">2 &gt;</text></g>
<g id="nd_reagent" transform="translate(1199,2108)"><rect class="b" width="139" height="79"/><rect class="h" width="139" height="31"/><path class="l" d="M0,55H139M60,55V79M95,55V79"/><text class="t" x="69.5" y="20"><tspan class="n">nd_reagent</tspan>&#160; [table]</text><text x="4" y="48">...</text><text x="4" y="72">&lt; 2</text><text class="r" x="135" y="72">4 &gt;</text></g>
<g id="nd_reagent_relationship" transform="translate(1451,2108)"><rect class="b" width="230" height="79"/><rect class="h" width="230" height="31"/><path class="l" d="M0,55H230M111,55V79M172,55V79"/><text class="t" x="115" y="20"><tspan class="n">nd_reagent_relationship</tspan>&#160; [table]</text><text x="4" y="48">...</text><text x="4" y="72">&lt; 3</text></g>
<g id="cell_line_relationship" transform="translate(461,2147)"><rect class="b" width="208" height="79"/><rect class="h" width="208" height="31"/><path class="l" d="M0,55H208M102,55V79M156,55V79"/><text class="t" x="104" y="20"><tspan class="n">cell_line_relationship</tspan>&#160; [table]</text><text x="4" y="48">...</text><text x="4" y="72">&lt; 3</text></g>
<g id="phendesc" transform="translate(859,2144)"><rect class="b" width="129" height="79"/><rect class="h" width="129" height="31"/><path class="l" d="M0,55H129M63,55V79M96,55V79"/><text class="t" x="64.5" y="20"><tspan class="n">phendesc</tspan>&#160; [table]</text><text x="4" y="48">...</text><text x="4" y="72">&lt; 4</text></g>
<g id="quantification_relationship" transform="translate(1442,2216)"><rect class="b" width="247" height="79"/><rect class="h" width="247" height="31"/><path class="l" d="M0,55H247M120,55V79M183,55V79"/><text class="t" x="123.5" y="20"><tspan class="n">quantification_relationship</tspan>&#160; [table]</text><text x="4" y="48">...</text><text x="4" y="72">&lt; 3</text></g>
<g id="cell_lineprop" transform="translate(490,2253)"><rect class="b" width="149" height="79"/><rect class="h" width="149" height="31"/><path class="l" d="M0,55H149M65,55V79M101,55V79"/><text class="t" x="74.5" y="20"><tspan class="n">cell_lineprop</tspan>&#160; [table]</text><text x="4" y="48">...</text><text x="4" y="72">&lt; 2</text><text class="r" x="145" y="72">1 &gt;</text></g>
<g id="quantification" transform="translate(1189,2287)"><rect class="b" width="158" height="79"/><rect class="h" width="158" height="31"/><path class="l" d="M0,55H158M70,55V79M108,55V79"/><text class="t" x="79" y="20"><tspan class="n">quantification</tspan>&#160; [table]</text><text x="4" y="48">...</text><text x="4" y="72">&lt; 4</text><text class="r" x="154" y="72">4 &gt;</text></g>
<g id="arraydesignprop" transform="translate(1477,2322)"><rect class="b" width="176" height="79"/><rect class="h" width="176" height="31"/><path class="l" d="M0,55H176M85,55V79M132,55V79"/><text class="t" x="88" y="20"><tspan class="n">arraydesignprop</tspan>&#160; [table]</text><text x="4" y="48">...</text><text x="4" y="72">&lt; 2</text></g>
<g id="chadoprop" transform="translate(496,2359)"><rect class="b" width="136" height="79"/><rect class="h" width="136" height="31"/><path class="l" d="M0,55H136M67,55V79M102,55V79"/><text class="t" x="68" y="20"><tspan class="n">chadoprop</tspan>&#160; [table]</text><text x="4" y="48">...</text><text x="4" y="72">&lt; 1</text></g>
<g id="quantificationprop" transform="translate(1471,2428)"><rect class="b" width="187" height="79"/><rect class="h" width="187" height="31"/><path class="l" d="M0,55H187M91,55V79M141,55V79"/><text class="t" x="93.5" y="20"><tspan class="n">quantificationprop</tspan>&#160; [table]</text><text x="4" y="48">...</text><text x="4" y="72">&lt; 2</text></g>
<g id="nd_protocol_reagent" transform="translate(1463,2536)"><rect class="b" width="205" height="79"/><rect class="h" width="205" height="31"/><path class="l" d="M0,55H205M99,55V79M152,55V79"/><text class="t" x="102.5" y="20"><tspan class="n">nd_protocol_reagent</tspan>&#160; [table]</text><text x="4" y="48">...</text><text x="4" y="72">&lt; 3</text></g>
<g id="control" transform="translate(509,2539)"><rect class="b" width="109" height="79"/><rect class="h" width="109" height="31"/><path class="l" d="M0,55H109M54,55V79M82,55V79"/><text class="t" x="54.5" y="20"><tspan class="n">control</tspan>&#160; [table]</text><text x="4" y="48">...</text><text x="4" y="72">&lt; 3</text></g>
<g id="cvterm_relationship" transform="translate(464,2646)"><rect class="b" width="200" height="79"/><rect class="h" width="200" height="31"/><path class="l" d="M0,55H200M99,55V79M149,55V79"/><text class="t" x="100" y="20"><tspan class="n">cvterm_relationship</tspan>&#160; [table]</text><text x="4" y="48">...</text><text x="4" y="72">&lt; 3</text></g>
<g id="cvtermprop" transform="translate(493,2753)"><rect class="b" width="141" height="79"/><rect class="h" width="141" height="31"/><path class="l" d="M0,55H141M70,55V79M105,55V79"/><text class="t" x="70.5" y="20"><tspan class="n">cvtermprop</tspan>&#160; [table]</text><text x="4" y="48">...</text><text x="4" y="72">&lt; 2</text></g>
<g id="cvtermsynonym" transform="translate(478,2859)"><rect class="b" width="172" height="79"/><rect class="h" width="172" height="31"/><path class="l" d="M0,55H172M85,55V79M128,55V79"/><text class="t" x="86" y="20"><tspan class="n">cvtermsynonym</tspan>&#160; [table]</text><text x="4" y="48">...</text><text x="4" y="72">&lt; 2</text></g>
<g id="dbprop" transform="translate(509,2966)"><rect class="b" width="111" height="79"/><rect class="h" width="111" height="31"/><path class="l" d="M0,55H111M54,55V79M82,55V79"/><text class="t" x="55.5" y="20"><tspan class="n">dbprop</tspan>&#160; [table]</text><text x="4" y="48">...</text><text x="4" y="72">&lt; 2</text></g>
<g id="elementresult_relationship" transform="translate(440,3110)"><rect class="b" width="248" height="79"/><rect class="h" width="248" height="31"/><path class="l" d="M0,55H248M123,55V79M185,55V79"/><text class="t" x="124" y="20"><tspan class="n">elementresult_relationship</tspan>&#160; [table]</text><text x="4" y="48">...</text><text x="4" y="72">&lt; 3</text></g>
<g id="environment_cvterm" transform="translate(462,3217)"><rect class="b" width="204" height="79"/><rect class="h" width="204" height="31"/><path class="l" d="M0,55H204M101,55V79M151,55V79"/><text class="t" x="102" y="20"><tspan class="n">environment_cvterm</tspan>&#160; [table]</text><text x="4" y="48">...</text><text x="4" y="72">&lt; 2</text></g>
<g id="phenstatement" transform="translate(840,3377)"><rect class="b" width="166" height="79"/><rect class="h" width="166" height="31"/><path class="l" d="M0,55H166M82,55V79M124,55V79"/><text class="t" x="83" y="20"><tspan class="n">phenstatement</tspan>&#160; [table]</text><text x="4" y="48">...</text><text x="4" y="72">&lt; 5</text></g>
<g id="expressionprop" transform="translate(480,3397)"><rect class="b" width="169" height="79"/><rect class="h" width="169" height="31"/><path class="l" d="M0,55H169M83,55V79M126,55V79"/><text class="t" x="84.5" y="20"><tspan class="n">expressionprop</tspan>&#160; [table]</text><text x="4" y="48">...</text><text x="4" y="72">&lt; 2</text></g>
<g id="genotype" transform="translate(501,3503)"><rect class="b" width="125" height="79"/><rect class="h" width="125" height="31"/><path class="l" d="M0,55H125M54,55V79M86,55V79"/><text class="t" x="62.5" y="20"><tspan class="n">genotype</tspan>&#160; [table]</text><text x="4" y="48">...</text><text x="4" y="72">&lt; 1</text><text class="r" x="121" y="72">8 &gt;</text></g>
<g id="contact_relationship" transform="translate(823,3576)"><rect class="b" width="203" height="79"/><rect class="h" width="203" height="31"/><path class="l" d="M0,55H203M99,55V79M151,55V79"/><text class="t" x="101.5" y="20"><tspan class="n">contact_relationship</tspan>&#160; [table]</text><text x="4" y="48">...</text><text x="4" y="72">&lt; 3</text></g>
<g id="cvterm" transform="translate(189,3643)"><rect class="b" width="186" height="224"/><rect class="h" width="186" height="31"/><path class="l" d="M0,60H186M0,89H186M0,118H186M0,147H186M0,176H186M0,200H186M76,200V224M116,200V224"/><text class="n" x="5" y="20">cvterm</text><text class="r" x="181" y="20">[table]</text><use href="#k" x="7" y="35" width="8" height="20" class="pk"/><use href="#k" x="7" y="64" width="8" height="20" class="fk"/><use href="#k" x="7" y="122" width="8" height="20" class="fk"/><text x="22" y="50">cvterm_id</text><text x="22" y="79">cv_id</text><text x="22" y="108">name</text><text x="22" y="137">dbxref_id</text><text x="22" y="166">is_obsolete</text><text x="4" y="192">...</text><text x="4" y="217">&lt; 2</text><text class="r" x="182" y="217">122 &gt;</text></g>
<g id="feature_expressionprop" transform="translate(452,3683)"><rect class="b" width="226" height="79"/><rect class="h" width="226" height="31"/><path class="l" d="M0,55H226M111,55V79M168,55V79"/><text class="t" x="113" y="20"><tspan class="n">feature_expressionprop</tspan>&#160; [table]</text><text x="4" y="48">...</text><text x="4" y="72">&lt; 2</text></g>
<g id="contactprop" transform="translate(852,3755)"><rect class="b" width="145" height="79"/><rect class="h" width="145" height="31"/><path class="l" d="M0,55H145M70,55V79M108,55V79"/><text class="t" x="72.5" y="20"><tspan class="n">contactprop</tspan>&#160; [table]</text><text x="4" y="48">...</text><text x="4" y="72">&lt; 2</text></g>
<g id="contact" transform="translate(509,3790)"><rect class="b" width="112" height="79"/><rect class="h" width="112" height="31"/><path class="l" d="M0,55H112M42,55V79M69,55V79"/><text class="t" x="56" y="20"><tspan class="n">contact</tspan>&#160; [table]</text><text x="4" y="48">...</text><text x="4" y="72">&lt; 1</text><text class="r" x="108" y="72">15 &gt;</text></g>
<g id="arraydesign" transform="translate(1196,3831)"><rect class="b" width="143" height="79"/><rect class="h" width="143" height="31"/><path class="l" d="M0,55H143M63,55V79M98,55V79"/><text class="t" x="71.5" y="20"><tspan class="n">arraydesign</tspan>&#160; [table]</text><text x="4" y="48">...</text><text x="4" y="72">&lt; 5</text><text class="r" x="139" y="72">3 &gt;</text></g>
<g id="stockcollection" transform="translate(842,3915)"><rect class="b" width="165" height="79"/><rect class="h" width="165" height="31"/><path class="l" d="M0,55H165M74,55V79M115,55V79"/><text class="t" x="82.5" y="20"><tspan class="n">stockcollection</tspan>&#160; [table]</text><text x="4" y="48">...</text><text x="4" y="72">&lt; 2</text><text class="r" x="161" y="72">3 &gt;</text></g>
<g id="feature_pubprop" transform="translate(476,3934)"><rect class="b" width="176" height="79"/><rect class="h" width="176" height="31"/><path class="l" d="M0,55H176M87,55V79M132,55V79"/><text class="t" x="88" y="20"><tspan class="n">feature_pubprop</tspan>&#160; [table]</text><text x="4" y="48">...</text><text x="4" y="72">&lt; 2</text></g>
<g id="feature_cvtermprop" transform="translate(1466,4036)"><rect class="b" width="199" height="79"/><rect class="h" width="199" height="31"/><path class="l" d="M0,55H199M96,55V79M149,55V79"/><text class="t" x="99.5" y="20"><tspan class="n">feature_cvtermprop</tspan>&#160; [table]</text><text x="4" y="48">...</text><text x="4" y="72">&lt; 2</text></g>
<g id="genotypeprop" transform="translate(846,4059)"><rect class="b" width="157" height="79"/><rect class="h" width="157" height="31"/><path class="l" d="M0,55H157M76,55V79M117,55V79"/><text class="t" x="78.5" y="20"><tspan class="n">genotypeprop</tspan>&#160; [table]</text><text x="4" y="48">...</text><text x="4" y="72">&lt; 2</text></g>
<g id="feature_cvterm" transform="translate(1185,4087)"><rect class="b" width="165" height="79"/><rect class="h" width="165" height="31"/><path class="l" d="M0,55H165M74,55V79M115,55V79"/><text class="t" x="82.5" y="20"><tspan class="n">feature_cvterm</tspan>&#160; [table]</text><text x="4" y="48">...</text><text x="4" y="72">&lt; 3</text><text class="r" x="161" y="72">3 &gt;</text></g>
<g id="featureposprop" transform="translate(480,4130)"><rect class="b" width="169" height="79"/><rect class="h" width="169" height="31"/><path class="l" d="M0,55H169M83,55V79M126,55V79"/><text class="t" x="84.5" y="20"><tspan class="n">featureposprop</tspan>&#160; [table]</text><text x="4" y="48">...</text><text x="4" y="72">&lt; 2</text></g>
<g id="nd_experiment_pub" transform="translate(824,4203)"><rect class="b" width="198" height="79"/><rect class="h" width="198" height="31"/><path class="l" d="M0,55H198M98,55V79M148,55V79"/><text class="t" x="99" y="20"><tspan class="n">nd_experiment_pub</tspan>&#160; [table]</text><text x="4" y="48">...</text><text x="4" y="72">&lt; 2</text></g>
<g id="stockcollectionprop" transform="translate(1169,4221)"><rect class="b" width="199" height="79"/><rect class="h" width="199" height="31"/><path class="l" d="M0,55H199M94,55V79M147,55V79"/><text class="t" x="99.5" y="20"><tspan class="n">stockcollectionprop</tspan>&#160; [table]</text><text x="4" y="48">...</text><text x="4" y="72">&lt; 2</text></g>
<g id="expression_cvtermprop" transform="translate(810,4311)"><rect class="b" width="226" height="79"/><rect class="h" width="226" height="31"/><path class="l" d="M0,55H226M112,55V79M169,55V79"/><text class="t" x="113" y="20"><tspan class="n">expression_cvtermprop</tspan>&#160; [table]</text><text x="4" y="48">...</text><text x="4" y="72">&lt; 2</text></g>
<g id="library_expressionprop" transform="translate(452,4382)"><rect class="b" width="223" height="79"/><rect class="h" width="223" height="31"/><path class="l" d="M0,55H223M111,55V79M168,55V79"/><text class="t" x="111.5" y="20"><tspan class="n">library_expressionprop</tspan>&#160; [table]</text><text x="4" y="48">...</text><text x="4" y="72">&lt; 2</text></g>
<g id="stock_cvterm" transform="translate(1191,4382)"><rect class="b" width="153" height="79"/><rect class="h" width="153" height="31"/><path class="l" d="M0,55H153M68,55V79M105,55V79"/><text class="t" x="76.5" y="20"><tspan class="n">stock_cvterm</tspan>&#160; [table]</text><text x="4" y="48">...</text><text x="4" y="72">&lt; 3</text><text class="r" x="149" y="72">1 &gt;</text></g>
<g id="stock_cvtermprop" transform="translate(1473,4415)"><rect class="b" width="185" height="79"/><rect class="h" width="185" height="31"/><path class="l" d="M0,55H185M89,55V79M139,55V79"/><text class="t" x="92.5" y="20"><tspan class="n">stock_cvtermprop</tspan>&#160; [table]</text><text x="4" y="48">...</text><text x="4" y="72">&lt; 2</text></g>
<g id="library_featureprop" transform="translate(467,4489)"><rect class="b" width="196" height="79"/><rect class="h" width="196" height="31"/><path class="l" d="M0,55H196M96,55V79M145,55V79"/><text class="t" x="98" y="20"><tspan class="n">library_featureprop</tspan>&#160; [table]</text><text x="4" y="48">...</text><text x="4" y="72">&lt; 2</text></g>
<g id="stockprop" transform="translate(1203,4527)"><rect class="b" width="131" height="79"/><rect class="h" width="131" height="31"/><path class="l" d="M0,55H131M56,55V79M89,55V79"/><text class="t" x="65.5" y="20"><tspan class="n">stockprop</tspan>&#160; [table]</text><text x="4" y="48">...</text><text x="4" y="72">&lt; 2</text><text class="r" x="127" y="72">1 &gt;</text></g>
<g id="studyprop" transform="translate(858,4598)"><rect class="b" width="131" height="79"/><rect class="h" width="131" height="31"/><path class="l" d="M0,55H131M58,55V79M92,55V79"/><text class="t" x="65.5" y="20"><tspan class="n">studyprop</tspan>&#160; [table]</text><text x="4" y="48">...</text><text x="4" y="72">&lt; 2</text><text class="r" x="127" y="72">1 &gt;</text></g>
<g id="expression_cvterm" transform="translate(468,4633)"><rect class="b" width="193" height="79"/><rect class="h" width="193" height="31"/><path class="l" d="M0,55H193M87,55V79M134,55V79"/><text class="t" x="96.5" y="20"><tspan class="n">expression_cvterm</tspan>&#160; [table]</text><text x="4" y="48">...</text><text x="4" y="72">&lt; 3</text><text class="r" x="189" y="72">1 &gt;</text></g>
<g id="feature_genotype" transform="translate(1177,4633)"><rect class="b" width="182" height="79"/><rect class="h" width="182" height="31"/><path class="l" d="M0,55H182M89,55V79M136,55V79"/><text class="t" x="91" y="20"><tspan class="n">feature_genotype</tspan>&#160; [table]</text><text x="4" y="48">...</text><text x="4" y="72">&lt; 4</text></g>
<g id="nd_experiment_genotype" transform="translate(805,4705)"><rect class="b" width="237" height="79"/><rect class="h" width="237" height="31"/><path class="l" d="M0,55H237M117,55V79M176,55V79"/><text class="t" x="118.5" y="20"><tspan class="n">nd_experiment_genotype</tspan>&#160; [table]</text><text x="4" y="48">...</text><text x="4" y="72">&lt; 2</text></g>
<g id="studyprop_feature" transform="translate(1174,4776)"><rect class="b" width="188" height="79"/><rect class="h" width="188" height="31"/><path class="l" d="M0,55H188M89,55V79M139,55V79"/><text class="t" x="94" y="20"><tspan class="n">studyprop_feature</tspan>&#160; [table]</text><text x="4" y="48">...</text><text x="4" y="72">&lt; 3</text></g>
<g id="organismprop" transform="translate(844,4811)"><rect class="b" width="159" height="79"/><rect class="h" width="159" height="31"/><path class="l" d="M0,55H159M72,55V79M109,55V79"/><text class="t" x="79.5" y="20"><tspan class="n">organismprop</tspan>&#160; [table]</text><text x="4" y="48">...</text><text x="4" y="72">&lt; 2</text><text class="r" x="155" y="72">1 &gt;</text></g>
<g id="phylonodeprop" transform="translate(1482,4842)"><rect class="b" width="166" height="79"/><rect class="h" width="166" height="31"/><path class="l" d="M0,55H166M80,55V79M123,55V79"/><text class="t" x="83" y="20"><tspan class="n">phylonodeprop</tspan>&#160; [table]</text><text x="4" y="48">...</text><text x="4" y="72">&lt; 2</text></g>
<g id="organism_relationship" transform="translate(817,4918)"><rect class="b" width="215" height="79"/><rect class="h" width="215" height="31"/><path class="l" d="M0,55H215M105,55V79M160,55V79"/><text class="t" x="107.5" y="20"><tspan class="n">organism_relationship</tspan>&#160; [table]</text><text x="4" y="48">...</text><text x="4" y="72">&lt; 3</text></g>
<g id="organism" transform="translate(501,5028)"><rect class="b" width="126" height="79"/><rect class="h" width="126" height="31"/><path class="l" d="M0,55H126M50,55V79M80,55V79"/><text class="t" x="63" y="20"><tspan class="n">organism</tspan>&#160; [table]</text><text x="4" y="48">...</text><text x="4" y="72">&lt; 1</text><text class="r" x="122" y="72">14 &gt;</text></g>
<g id="stock" transform="translate(873,5023)"><rect class="b" width="100" height="79"/><rect class="h" width="100" height="31"/><path class="l" d="M0,55H100M39,55V79M62,55V79"/><text class="t" x="50" y="20"><tspan class="n">stock</tspan>&#160; [table]</text><text x="4" y="48">...</text><text x="4" y="72">&lt; 3</text><text class="r" x="96" y="72">13 &gt;</text></g>
<g id="nd_experiment_stockprop" transform="translate(1444,5093)"><rect class="b" width="243" height="79"/><rect class="h" width="243" height="31"/><path class="l" d="M0,55H243M118,55V79M180,55V79"/><text class="t" x="121.5" y="20"><tspan class="n">nd_experiment_stockprop</tspan>&#160; [table]</text><text x="4" y="48">...</text><text x="4" y="72">&lt; 2</text></g>
<g id="nd_experiment_contact" transform="translate(811,5131)"><rect class="b" width="225" height="79"/><rect class="h" width="225" height="31"/><path class="l" d="M0,55H225M111,55V79M168,55V79"/><text class="t" x="112.5" y="20"><tspan class="n">nd_experiment_contact</tspan>&#160; [table]</text><text x="4" y="48">...</text><text x="4" y="72">&lt; 2</text></g>
<g id="stock_featuremap" transform="translate(1176,5129)"><rect class="b" width="184" height="79"/><rect class="h" width="184" height="31"/><path class="l" d="M0,55H184M91,55V79M137,55V79"/><text class="t" x="92" y="20"><tspan class="n">stock_featuremap</tspan>&#160; [table]</text><text x="4" y="48">...</text><text x="4" y="72">&lt; 3</text></g>
<g id="nd_experiment_stock" transform="translate(1162,5236)"><rect class="b" width="210" height="79"/><rect class="h" width="210" height="31"/><path class="l" d="M0,55H210M97,55V79M148,55V79"/><text class="t" x="105" y="20"><tspan class="n">nd_experiment_stock</tspan>&#160; [table]</text><text x="4" y="48">...</text><text x="4" y="72">&lt; 3</text><text class="r" x="206" y="72">2 &gt;</text></g>
<g id="phenotype" transform="translate(498,5281)"><rect class="b" width="133" height="79"/><rect class="h" width="133" height="31"/><path class="l" d="M0,55H133M57,55V79M90,55V79"/><text class="t" x="66.5" y="20"><tspan class="n">phenotype</tspan>&#160; [table]</text><text x="4" y="48">...</text><text x="4" y="72">&lt; 4</text><text class="r" x="129" y="72">7 &gt;</text></g>
<g id="phenotype_cvterm" transform="translate(829,5312)"><rect class="b" width="189" height="79"/><rect class="h" width="189" height="31"/><path class="l" d="M0,55H189M93,55V79M143,55V79"/><text class="t" x="94.5" y="20"><tspan class="n">phenotype_cvterm</tspan>&#160; [table]</text><text x="4" y="48">...</text><text x="4" y="72">&lt; 2</text></g>
<g id="analysis_pub" transform="translate(848,5419)"><rect class="b" width="153" height="79"/><rect class="h" width="153" height="31"/><path class="l" d="M0,55H153M74,55V79M114,55V79"/><text class="t" x="76.5" y="20"><tspan class="n">analysis_pub</tspan>&#160; [table]</text><text x="4" y="48">...</text><text x="4" y="72">&lt; 2</text></g>
<g id="featuremap" transform="translate(495,5497)"><rect class="b" width="139" height="79"/><rect class="h" width="139" height="31"/><path class="l" d="M0,55H139M60,55V79M96,55V79"/><text class="t" x="69.5" y="20"><tspan class="n">featuremap</tspan>&#160; [table]</text><text x="4" y="48">...</text><text x="4" y="72">&lt; 1</text><text class="r" x="135" y="72">8 &gt;</text></g>
<g id="phenotypeprop" transform="translate(839,5524)"><rect class="b" width="168" height="79"/><rect class="h" width="168" height="31"/><path class="l" d="M0,55H168M83,55V79M125,55V79"/><text class="t" x="84" y="20"><tspan class="n">phenotypeprop</tspan>&#160; [table]</text><text x="4" y="48">...</text><text x="4" y="72">&lt; 2</text></g>
<g id="element" transform="translate(1508,5594)"><rect class="b" width="116" height="79"/><rect class="h" width="116" height="31"/><path class="l" d="M0,55H116M49,55V79M77,55V79"/><text class="t" x="58" y="20"><tspan class="n">element</tspan>&#160; [table]</text><text x="4" y="48">...</text><text x="4" y="72">&lt; 4</text><text class="r" x="112" y="72">3 &gt;</text></g>
<g id="element_relationship" transform="translate(1754,5594)"><rect class="b" width="208" height="79"/><rect class="h" width="208" height="31"/><path class="l" d="M0,55H208M104,55V79M154,55V79"/><text class="t" x="104" y="20"><tspan class="n">element_relationship</tspan>&#160; [table]</text><text x="4" y="48">...</text><text x="4" y="72">&lt; 3</text></g>
<g id="feature" transform="translate(870,5632)"><rect class="b" width="108" height="79"/><rect class="h" width="108" height="31"/><path class="l" d="M0,55H108M41,55V79M65,55V79"/><text class="t" x="54" y="20"><tspan class="n">feature</tspan>&#160; [table]</text><text x="4" y="48">...</text><text x="4" y="72">&lt; 3</text><text class="r" x="104" y="72">30 &gt;</text></g>
<g id="stock_feature" transform="translate(1191,5671)"><rect class="b" width="154" height="79"/><rect class="h" width="154" height="31"/><path class="l" d="M0,55H154M76,55V79M115,55V79"/><text class="t" x="77" y="20"><tspan class="n">stock_feature</tspan>&#160; [table]</text><text x="4" y="48">...</text><text x="4" y="72">&lt; 3</text></g>
<g id="project_relationship" transform="translate(464,5678)"><rect class="b" width="201" height="79"/><rect class="h" width="201" height="31"/><path class="l" d="M0,55H201M99,55V79M151,55V79"/><text class="t" x="100.5" y="20"><tspan class="n">project_relationship</tspan>&#160; [table]</text><text x="4" y="48">...</text><text x="4" y="72">&lt; 3</text></g>
<g id="featuremapprop" transform="translate(837,5739)"><rect class="b" width="173" height="79"/><rect class="h" width="173" height="31"/><path class="l" d="M0,55H173M84,55V79M128,55V79"/><text class="t" x="86.5" y="20"><tspan class="n">featuremapprop</tspan>&#160; [table]</text><text x="4" y="48">...</text><text x="4" y="72">&lt; 2</text></g>
<g id="projectprop" transform="translate(493,5783)"><rect class="b" width="142" height="79"/><rect class="h" width="142" height="31"/><path class="l" d="M0,55H142M70,55V79M106,55V79"/><text class="t" x="71" y="20"><tspan class="n">projectprop</tspan>&#160; [table]</text><text x="4" y="48">...</text><text x="4" y="72">&lt; 2</text></g>
<g id="featureprop" transform="translate(1196,5810)"><rect class="b" width="143" height="79"/><rect class="h" width="143" height="31"/><path class="l" d="M0,55H143M63,55V79M98,55V79"/><text class="t" x="71.5" y="20"><tspan class="n">featureprop</tspan>&#160; [table]</text><text x="4" y="48">...</text><text x="4" y="72">&lt; 2</text><text class="r" x="139" y="72">1 &gt;</text></g>
<g id="library" transform="translate(872,5954)"><rect class="b" width="105" height="79"/><rect class="h" width="105" height="31"/><path class="l" d="M0,55H105M40,55V79M63,55V79"/><text class="t" x="52.5" y="20"><tspan class="n">library</tspan>&#160; [table]</text><text x="4" y="48">...</text><text x="4" y="72">&lt; 2</text><text class="r" x="101" y="72">12 &gt;</text></g>
<g id="library_relationship" transform="translate(1169,5954)"><rect class="b" width="197" height="79"/><rect class="h" width="197" height="31"/><path class="l" d="M0,55H197M90,55V79M137,55V79"/><text class="t" x="98.5" y="20"><tspan class="n">library_relationship</tspan>&#160; [table]</text><text x="4" y="48">...</text><text x="4" y="72">&lt; 3</text><text class="r" x="193" y="72">1 &gt;</text></g>
<g id="nd_protocol" transform="translate(492,6035)"><rect class="b" width="144" height="79"/><rect class="h" width="144" height="31"/><path class="l" d="M0,55H144M63,55V79M99,55V79"/><text class="t" x="72" y="20"><tspan class="n">nd_protocol</tspan>&#160; [table]</text><text x="4" y="48">...</text><text x="4" y="72">&lt; 1</text><text class="r" x="140" y="72">3 &gt;</text></g>
<g id="nd_experiment_phenotype" transform="translate(801,6061)"><rect class="b" width="246" height="79"/><rect class="h" width="246" height="31"/><path class="l" d="M0,55H246M121,55V79M183,55V79"/><text class="t" x="123" y="20"><tspan class="n">nd_experiment_phenotype</tspan>&#160; [table]</text><text x="4" y="48">...</text><text x="4" y="72">&lt; 2</text></g>
<g id="libraryprop" transform="translate(1199,6115)"><rect class="b" width="137" height="79"/><rect class="h" width="137" height="31"/><path class="l" d="M0,55H137M60,55V79M93,55V79"/><text class="t" x="68.5" y="20"><tspan class="n">libraryprop</tspan>&#160; [table]</text><text x="4" y="48">...</text><text x="4" y="72">&lt; 2</text><text class="r" x="133" y="72">1 &gt;</text></g>
<g id="nd_experiment" transform="translate(476,6142)"><rect class="b" width="176" height="143"/><rect class="h" width="176" height="31"/><path class="l" d="M0,60H176M0,90H176M0,119H176M75,119V143M115,119V143"/><text class="n" x="5" y="20">nd_experiment</text><text class="r" x="171" y="20">[table]</text><use href="#k" x="7" y="35" width="8" height="20" class="pk"/><use href="#k" x="7" y="65" width="8" height="20" class="fk"/><use href="#k" x="7" y="94" width="8" height="20" class="fk"/><text x="22" y="50">nd_experiment_id</text><text x="22" y="80">nd_geolocation_id</text><text x="22" y="109">type_id</text><text x="4" y="136">&lt; 2</text><text class="r" x="172" y="136">10 &gt;</text></g>
<g id="nd_protocolprop" transform="translate(835,6167)"><rect class="b" width="177" height="79"/><rect class="h" width="177" height="31"/><path class="l" d="M0,55H177M86,55V79M132,55V79"/><text class="t" x="88.5" y="20"><tspan class="n">nd_protocolprop</tspan>&#160; [table]</text><text x="4" y="48">...</text><text x="4" y="72">&lt; 2</text></g>
<g id="nd_experiment_protocol" transform="translate(808,6312)"><rect class="b" width="231" height="79"/><rect class="h" width="231" height="31"/><path class="l" d="M0,55H231M114,55V79M173,55V79"/><text class="t" x="115.5" y="20"><tspan class="n">nd_experiment_protocol</tspan>&#160; [table]</text><text x="4" y="48">...</text><text x="4" y="72">&lt; 2</text></g>
<g id="nd_geolocation" transform="translate(197,6388)"><rect class="b" width="169" height="79"/><rect class="h" width="169" height="31"/><path class="l" d="M0,55H169M71,55V79M113,55V79"/><text class="t" x="84.5" y="20"><tspan class="n">nd_geolocation</tspan>&#160; [table]</text><text x="4" y="48">...</text><text class="r" x="165" y="72">2 &gt;</text></g>
<g id="nd_experiment_project" transform="translate(814,6456)"><rect class="b" width="221" height="79"/><rect class="h" width="221" height="31"/><path class="l" d="M0,55H221M108,55V79M163,55V79"/><text class="t" x="110.5" y="20"><tspan class="n">nd_experiment_project</tspan>&#160; [table]</text><text x="4" y="48">...</text><text x="4" y="72">&lt; 2</text></g>
<g id="nd_experimentprop" transform="translate(825,6562)"><rect class="b" width="197" height="79"/><rect class="h" width="197" height="31"/><path class="l" d="M0,55H197M97,55V79M147,55V79"/><text class="t" x="98.5" y="20"><tspan class="n">nd_experimentprop</tspan>&#160; [table]</text><text x="4" y="48">...</text><text x="4" y="72">&lt; 2</text></g>
<g id="nd_geolocationprop" transform="translate(464,6602)"><rect class="b" width="201" height="79"/><rect class="h" width="201" height="31"/><path class="l" d="M0,55H201M99,55V79M151,55V79"/><text class="t" x="100.5" y="20"><tspan class="n">nd_geolocationprop</tspan>&#160; [table]</text><text x="4" y="48">...</text><text x="4" y="72">&lt; 2</text></g>
<g id="cvterm_dbxref" transform="translate(483,6709)"><rect class="b" width="162" height="79"/><rect class="h" width="162" height="31"/><path class="l" d="M0,55H162M80,55V79M122,55V79"/><text class="t" x="81" y="20"><tspan class="n">cvterm_dbxref</tspan>&#160; [table]</text><text x="4" y="48">...</text><text x="4" y="72">&lt; 2</text></g>
<g id="phylotreeprop" transform="translate(844,6778)"><rect class="b" width="159" height="79"/><rect class="h" width="159" height="31"/><path class="l" d="M0,55H159M78,55V79M119,55V79"/><text class="t" x="79.5" y="20"><tspan class="n">phylotreeprop</tspan>&#160; [table]</text><text x="4" y="48">...</text><text x="4" y="72">&lt; 2</text></g>
<g id="dbxrefprop" transform="translate(495,6816)"><rect class="b" width="137" height="79"/><rect class="h" width="137" height="31"/><path class="l" d="M0,55H137M68,55V79M102,55V79"/><text class="t" x="68.5" y="20"><tspan class="n">dbxrefprop</tspan>&#160; [table]</text><text x="4" y="48">...</text><text x="4" y="72">&lt; 2</text></g>
<g id="phylonode" transform="translate(1201,6847)"><rect class="b" width="134" height="79"/><rect class="h" width="134" height="31"/><path class="l" d="M0,55H134M58,55V79M93,55V79"/><text class="t" x="67" y="20"><tspan class="n">phylonode</tspan>&#160; [table]</text><text x="4" y="48">...</text><text x="4" y="72">&lt; 4</text><text class="r" x="130" y="72">7 &gt;</text></g>
<g id="phylonode_relationship" transform="translate(1453,6892)"><rect class="b" width="225" height="79"/><rect class="h" width="225" height="31"/><path class="l" d="M0,55H225M109,55V79M169,55V79"/><text class="t" x="112.5" y="20"><tspan class="n">phylonode_relationship</tspan>&#160; [table]</text><text x="4" y="48">...</text><text x="4" y="72">&lt; 4</text></g>
<g id="analysisprop" transform="translate(490,6922)"><rect class="b" width="149" height="79"/><rect class="h" width="149" height="31"/><path class="l" d="M0,55H149M73,55V79M112,55V79"/><text class="t" x="74.5" y="20"><tspan class="n">analysisprop</tspan>&#160; [table]</text><text x="4" y="48">...</text><text x="4" y="72">&lt; 2</text></g>
<g id="analysisfeatureprop" transform="translate(1465,7018)"><rect class="b" width="200" height="79"/><rect class="h" width="200" height="31"/><path class="l" d="M0,55H200M97,55V79M148,55V79"/><text class="t" x="100" y="20"><tspan class="n">analysisfeatureprop</tspan>&#160; [table]</text><text x="4" y="48">...</text><text x="4" y="72">&lt; 2</text></g>
<g id="analysis_cvterm" transform="translate(477,7029)"><rect class="b" width="173" height="79"/><rect class="h" width="173" height="31"/><path class="l" d="M0,55H173M86,55V79M129,55V79"/><text class="t" x="86.5" y="20"><tspan class="n">analysis_cvterm</tspan>&#160; [table]</text><text x="4" y="48">...</text><text x="4" y="72">&lt; 2</text></g>
<g id="analysisfeature" transform="translate(1186,7067)"><rect class="b" width="164" height="79"/><rect class="h" width="164" height="31"/><path class="l" d="M0,55H164M73,55V79M114,55V79"/><text class="t" x="82" y="20"><tspan class="n">analysisfeature</tspan>&#160; [table]</text><text x="4" y="48">...</text><text x="4" y="72">&lt; 2</text><text class="r" x="160" y="72">1 &gt;</text></g>
<g id="nd_experiment_analysis" transform="translate(755,7030)"><rect class="b" width="337" height="176"/><rect class="h" width="337" height="32"/><path class="l" d="M0,62H337M0,92H337M0,122H337M0,151H337M251,32V151M132,151V176M251,151V176"/><rect width="337" height="176" fill="none" stroke="#000" stroke-width="3"/><text class="n" x="6" y="21">nd_experiment_analysis</text><text class="r" x="331" y="21">[table]</text><use href="#k" x="7" y="37" width="8" height="20" class="pk"/><use href="#k" x="7" y="67" width="8" height="20" class="fk"/><use href="#k" x="7" y="97" width="8" height="20" class="fk"/><use href="#k" x="7" y="127" width="8" height="20" class="fk"/><text x="22" y="52">nd_experiment_analysis_id</text><text x="255" y="52">bigserial[19]</text><text x="22" y="82">nd_experiment_id</text><text x="255" y="82">int8[19]</text><text x="22" y="112">analysis_id</text><text x="255" y="112">int8[19]</text><text x="22" y="141">type_id</text><text x="255" y="141">int8[19]</text><text x="4" y="169">&lt; 3</text><text class="r" x="333" y="169">0 &gt;</text></g>
<g id="dbxref" transform="translate(16,7097)"><rect class="b" width="106" height="79"/><rect class="h" width="106" height="31"/><path class="l" d="M0,55H106M41,55V79M64,55V79"/><text class="t" x="53" y="20"><tspan class="n">dbxref</tspan>&#160; [table]</text><text x="4" y="48">...</text><text x="4" y="72">&lt; 1</text><text class="r" x="102" y="72">26 &gt;</text></g>
<g id="analysis_relationship" transform="translate(459,7209)"><rect class="b" width="210" height="79"/><rect class="h" width="210" height="31"/><path class="l" d="M0,55H210M104,55V79M157,55V79"/><text class="t" x="105" y="20"><tspan class="n">analysis_relationship</tspan>&#160; [table]</text><text x="4" y="48">...</text><text x="4" y="72">&lt; 3</text></g>
<g id="analysis" transform="translate(201,7311)"><rect class="b" width="160" height="195"/><rect class="h" width="160" height="31"/><path class="l" d="M0,60H160M0,89H160M0,118H160M0,147H160M0,171H160M61,171V195M99,171V195"/><text class="n" x="5" y="20">analysis</text><text class="r" x="155" y="20">[table]</text><use href="#k" x="7" y="35" width="8" height="20" class="pk"/><text x="22" y="50">analysis_id</text><text x="22" y="79">program</text><text x="22" y="108">programversion</text><text x="22" y="137">sourcename</text><text x="4" y="163">...</text><text class="r" x="156" y="188">11 &gt;</text></g>
<g id="nd_experiment_dbxref" transform="translate(817,7388)"><rect class="b" width="215" height="79"/><rect class="h" width="215" height="31"/><path class="l" d="M0,55H215M105,55V79M160,55V79"/><text class="t" x="107.5" y="20"><tspan class="n">nd_experiment_dbxref</tspan>&#160; [table]</text><text x="4" y="48">...</text><text x="4" y="72">&lt; 2</text></g>
<g id="project_analysis" transform="translate(477,7425)"><rect class="b" width="174" height="79"/><rect class="h" width="174" height="31"/><path class="l" d="M0,55H174M86,55V79M130,55V79"/><text class="t" x="87" y="20"><tspan class="n">project_analysis</tspan>&#160; [table]</text><text x="4" y="48">...</text><text x="4" y="72">&lt; 2</text></g>
<g id="phylotree" transform="translate(501,7532)"><rect class="b" width="126" height="79"/><rect class="h" width="126" height="31"/><path class="l" d="M0,55H126M54,55V79M86,55V79"/><text class="t" x="63" y="20"><tspan class="n">phylotree</tspan>&#160; [table]</text><text x="4" y="48">...</text><text x="4" y="72">&lt; 3</text><text class="r" x="122" y="72">4 &gt;</text></g>
<g id="analysis_dbxref" transform="translate(478,7677)"><rect class="b" width="171" height="79"/><rect class="h" width="171" height="31"/><path class="l" d="M0,55H171M84,55V79M128,55V79"/><text class="t" x="85.5" y="20"><tspan class="n">analysis_dbxref</tspan>&#160; [table]</text><text x="4" y="48">...</text><text x="4" y="72">&lt; 2</text></g>
<text x="15" y="7897">Generated by SchemaSpy</text>
</svg>
